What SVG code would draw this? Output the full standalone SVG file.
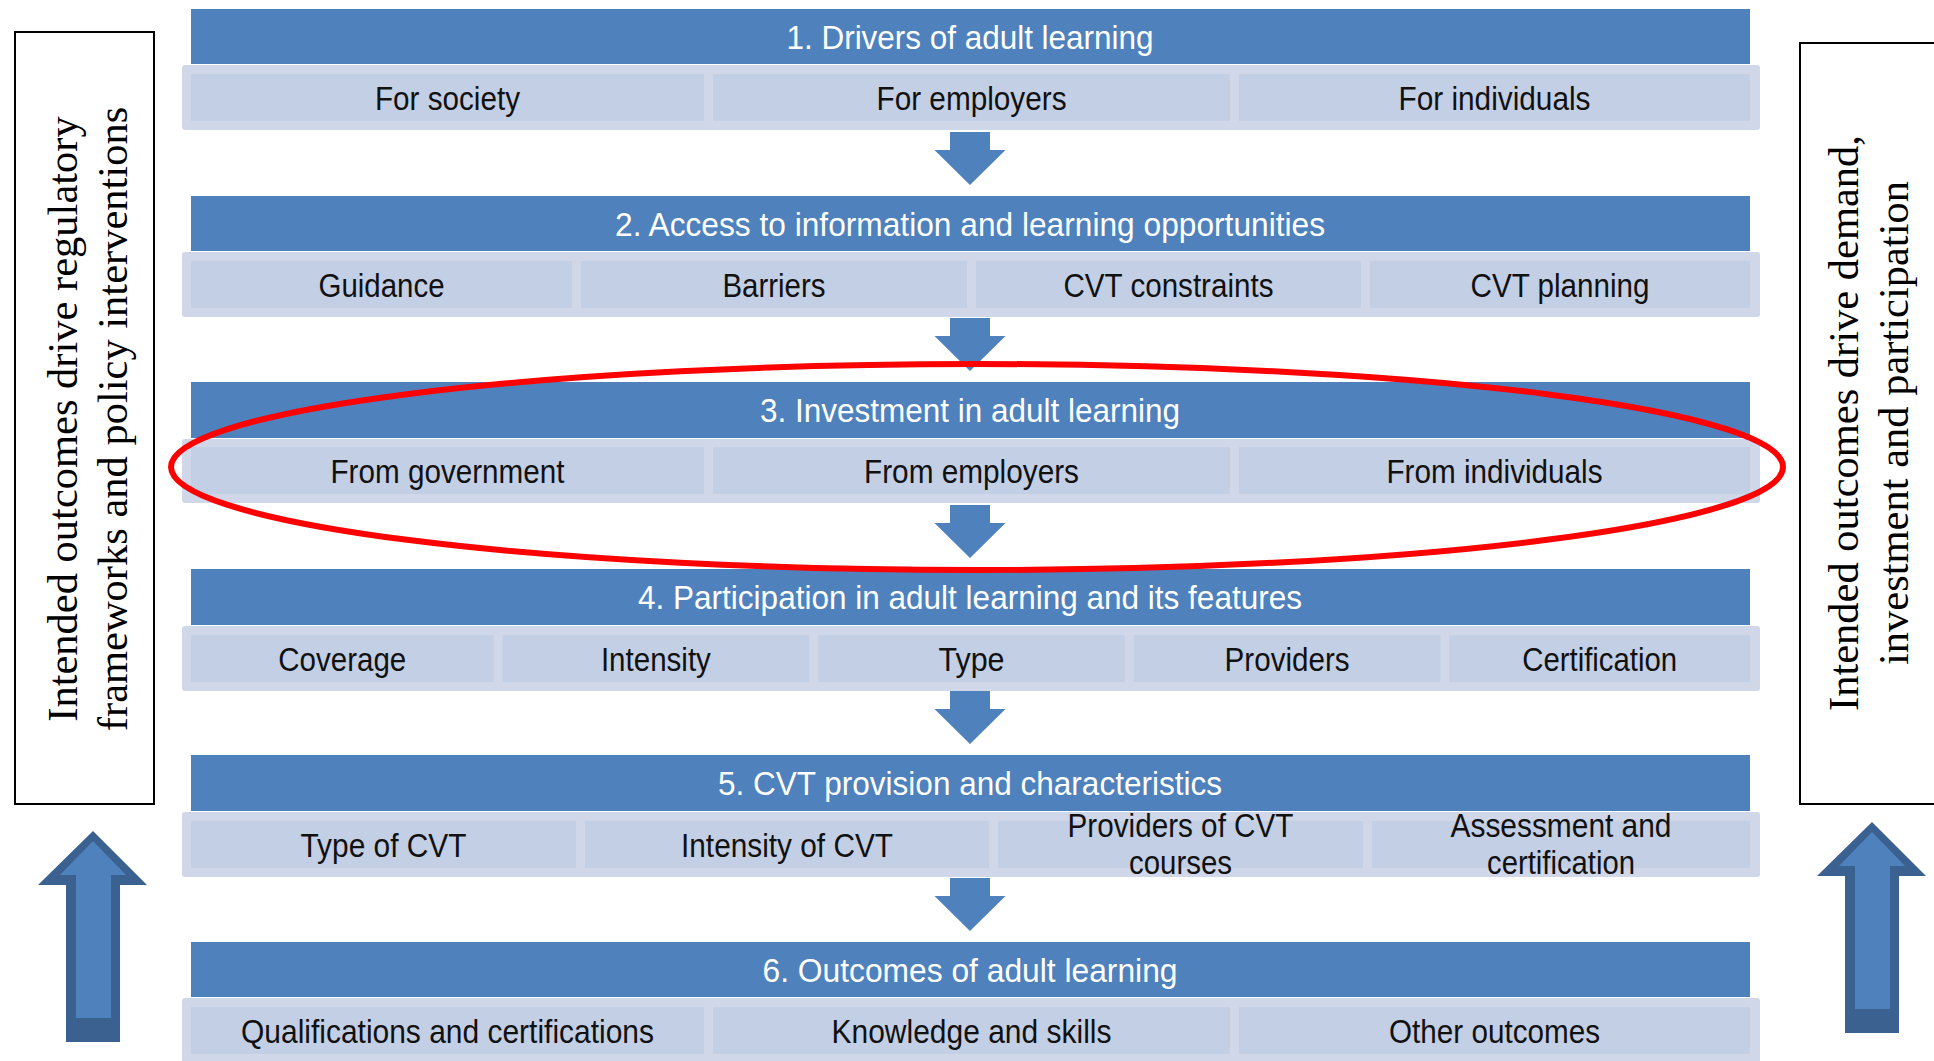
<svg xmlns="http://www.w3.org/2000/svg" xmlns:xlink="http://www.w3.org/1999/xlink" width="1934" height="1061" viewBox="0 0 1934 1061">
<style>
.hdr{fill:#4f81bd}
.band{fill:#cfd7e8}
.cell{fill:#c3cfe5}
.ht{font-family:"Liberation Sans",Arial,sans-serif;font-size:33px;fill:#ffffff;text-anchor:middle}
.ct{font-family:"Liberation Sans",Arial,sans-serif;font-size:33px;fill:#111111;text-anchor:middle}
.side{fill:#ffffff;stroke:#000000;stroke-width:2}
.st{font-family:"Liberation Serif","Times New Roman",serif;font-size:42.5px;fill:#000000;text-anchor:middle}
.dn{fill:#4f81bd}
.upo{fill:#3b6191}
.upi{fill:#4f81bd}
.hl{fill:none;stroke:#ff0000;stroke-width:6}
</style>
<defs>
<path id="dnArrow" class="dn" d="M-20,0 H20 V18 H35.5 L0,53 L-35.5,18 H-20 Z"/>
<g id="upArrow">
<path class="upo" d="M0,0 L54,54 H27 V211 H-27 V54 H-55 Z"/>
<path class="upi" d="M0,10 L33,44 H18 V187 H-17 V44 H-33 Z"/>
</g>
</defs>
<rect width="1934" height="1061" fill="#ffffff"/>

<g id="left-box">
<rect class="side" x="15" y="32" width="139" height="772"/>
<text class="st" transform="translate(77,419) rotate(-90)">Intended outcomes drive regulatory</text>
<text class="st" transform="translate(127,419) rotate(-90)">frameworks and policy interventions</text>
</g>
<g id="right-box">
<rect class="side" x="1800" y="43" width="200" height="761"/>
<text class="st" transform="translate(1858,423) rotate(-90)">Intended outcomes drive demand,</text>
<text class="st" transform="translate(1908,423) rotate(-90)">investment and participation</text>
</g>

<g id="row1">
<rect class="hdr" x="191" y="9" width="1559" height="55"/>
<text class="ht" x="970" y="48.5" textLength="367" lengthAdjust="spacingAndGlyphs">1. Drivers of adult learning</text>
<rect class="band" x="182" y="65" width="1578" height="65" rx="3"/>
<rect class="cell" x="191" y="74" width="513" height="47"/>
<rect class="cell" x="713" y="74" width="517" height="47"/>
<rect class="cell" x="1239" y="74" width="511" height="47"/>
<text class="ct" x="447.5" y="109.5" textLength="145" lengthAdjust="spacingAndGlyphs">For society</text>
<text class="ct" x="971.5" y="109.5" textLength="190" lengthAdjust="spacingAndGlyphs">For employers</text>
<text class="ct" x="1494.5" y="109.5" textLength="192" lengthAdjust="spacingAndGlyphs">For individuals</text>
</g>

<g id="row2">
<rect class="hdr" x="191" y="196" width="1559" height="55"/>
<text class="ht" x="970" y="235.5" textLength="710" lengthAdjust="spacingAndGlyphs">2. Access to information and learning opportunities</text>
<rect class="band" x="182" y="252" width="1578" height="65" rx="3"/>
<rect class="cell" x="191" y="261" width="381" height="47"/>
<rect class="cell" x="581" y="261" width="386" height="47"/>
<rect class="cell" x="976" y="261" width="385" height="47"/>
<rect class="cell" x="1370" y="261" width="380" height="47"/>
<text class="ct" x="381.5" y="296.5" textLength="126" lengthAdjust="spacingAndGlyphs">Guidance</text>
<text class="ct" x="774" y="296.5" textLength="103" lengthAdjust="spacingAndGlyphs">Barriers</text>
<text class="ct" x="1168.5" y="296.5" textLength="210" lengthAdjust="spacingAndGlyphs">CVT constraints</text>
<text class="ct" x="1560" y="296.5" textLength="179" lengthAdjust="spacingAndGlyphs">CVT planning</text>
</g>

<g id="row3">
<rect class="hdr" x="191" y="382" width="1559" height="56"/>
<text class="ht" x="970" y="421.5" textLength="420" lengthAdjust="spacingAndGlyphs">3. Investment in adult learning</text>
<rect class="band" x="182" y="439" width="1578" height="64" rx="3"/>
<rect class="cell" x="191" y="447" width="513" height="47"/>
<rect class="cell" x="713" y="447" width="517" height="47"/>
<rect class="cell" x="1239" y="447" width="511" height="47"/>
<text class="ct" x="447.5" y="482.5" textLength="234" lengthAdjust="spacingAndGlyphs">From government</text>
<text class="ct" x="971.5" y="482.5" textLength="215" lengthAdjust="spacingAndGlyphs">From employers</text>
<text class="ct" x="1494.5" y="482.5" textLength="216" lengthAdjust="spacingAndGlyphs">From individuals</text>
</g>

<g id="row4">
<rect class="hdr" x="191" y="569" width="1559" height="56"/>
<text class="ht" x="970" y="608.5" textLength="664" lengthAdjust="spacingAndGlyphs">4. Participation in adult learning and its features</text>
<rect class="band" x="182" y="626" width="1578" height="65" rx="3"/>
<rect class="cell" x="191" y="635" width="302.6" height="47"/>
<rect class="cell" x="502.6" y="635" width="306.6" height="47"/>
<rect class="cell" x="818.2" y="635" width="306.6" height="47"/>
<rect class="cell" x="1133.8" y="635" width="306.6" height="47"/>
<rect class="cell" x="1449.4" y="635" width="300.6" height="47"/>
<text class="ct" x="342.3" y="670.5" textLength="128" lengthAdjust="spacingAndGlyphs">Coverage</text>
<text class="ct" x="655.9" y="670.5" textLength="110" lengthAdjust="spacingAndGlyphs">Intensity</text>
<text class="ct" x="971.5" y="670.5" textLength="66" lengthAdjust="spacingAndGlyphs">Type</text>
<text class="ct" x="1287.1" y="670.5" textLength="125" lengthAdjust="spacingAndGlyphs">Providers</text>
<text class="ct" x="1599.7" y="670.5" textLength="155" lengthAdjust="spacingAndGlyphs">Certification</text>
</g>

<g id="row5">
<rect class="hdr" x="191" y="755" width="1559" height="56"/>
<text class="ht" x="970" y="794.5" textLength="504" lengthAdjust="spacingAndGlyphs">5. CVT provision and characteristics</text>
<rect class="band" x="182" y="812" width="1578" height="65" rx="3"/>
<rect class="cell" x="191" y="821" width="385" height="47"/>
<rect class="cell" x="585" y="821" width="404" height="47"/>
<rect class="cell" x="998" y="821" width="365" height="47"/>
<rect class="cell" x="1372" y="821" width="378" height="47"/>
<text class="ct" x="383.5" y="856.5" textLength="166" lengthAdjust="spacingAndGlyphs">Type of CVT</text>
<text class="ct" x="787" y="856.5" textLength="212" lengthAdjust="spacingAndGlyphs">Intensity of CVT</text>
<text class="ct" x="1180.5" y="837" textLength="226" lengthAdjust="spacingAndGlyphs">Providers of CVT</text>
<text class="ct" x="1180.5" y="874" textLength="103" lengthAdjust="spacingAndGlyphs">courses</text>
<text class="ct" x="1561" y="837" textLength="221" lengthAdjust="spacingAndGlyphs">Assessment and</text>
<text class="ct" x="1561" y="874" textLength="148" lengthAdjust="spacingAndGlyphs">certification</text>
</g>

<g id="row6">
<rect class="hdr" x="191" y="942" width="1559" height="55"/>
<text class="ht" x="970" y="981.5" textLength="415" lengthAdjust="spacingAndGlyphs">6. Outcomes of adult learning</text>
<rect class="band" x="182" y="998" width="1578" height="65" rx="3"/>
<rect class="cell" x="191" y="1007" width="513" height="47"/>
<rect class="cell" x="713" y="1007" width="517" height="47"/>
<rect class="cell" x="1239" y="1007" width="511" height="47"/>
<text class="ct" x="447.5" y="1042.5" textLength="413" lengthAdjust="spacingAndGlyphs">Qualifications and certifications</text>
<text class="ct" x="971.5" y="1042.5" textLength="280" lengthAdjust="spacingAndGlyphs">Knowledge and skills</text>
<text class="ct" x="1494.5" y="1042.5" textLength="211" lengthAdjust="spacingAndGlyphs">Other outcomes</text>
</g>

<g id="connectors">
<use href="#dnArrow" xlink:href="#dnArrow" x="970" y="132"/>
<use href="#dnArrow" xlink:href="#dnArrow" x="970" y="318"/>
<use href="#dnArrow" xlink:href="#dnArrow" x="970" y="505"/>
<use href="#dnArrow" xlink:href="#dnArrow" x="970" y="691"/>
<use href="#dnArrow" xlink:href="#dnArrow" x="970" y="878"/>
</g>

<g id="left-up-arrow">
<use href="#upArrow" xlink:href="#upArrow" x="93" y="831"/>
</g>
<g id="right-up-arrow">
<use href="#upArrow" xlink:href="#upArrow" x="1872" y="822"/>
</g>

<g id="highlight">
<ellipse class="hl" cx="977" cy="467" rx="806" ry="103"/>
</g>
</svg>
